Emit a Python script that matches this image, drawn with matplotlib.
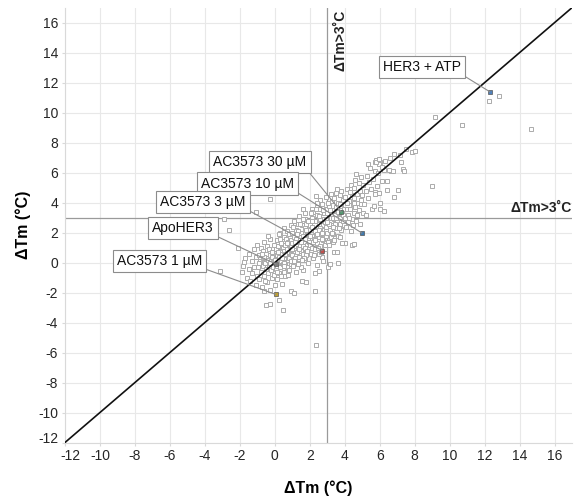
import matplotlib
matplotlib.use("Agg")
import matplotlib.pyplot as plt
import matplotlib.transforms as mtransforms

plt.rcParams['font.family'] = ['Liberation Sans', 'DejaVu Sans']
plt.rcParams['axes.unicode_minus'] = False

# screened compounds: dTm replicate 1 (x) vs replicate 2 (y)
pts = [
    # sparse / outliers
    (-3.12, -0.55), (-1.75, 0.05), (-1.43, -0.44), (-2.91, 2.89), (-1.06, 3.4), (-0.3, 4.22),
    (-0.51, -2.82), (-0.30, -2.78), (0.48, -3.15), (0.25, -2.49), (0.0, -1.53), (-0.63, -1.89),
    (0.95, -1.93), (1.09, -2.04), (2.37, -5.49), (2.27, -1.87), (1.53, -1.22), (1.77, -1.29),
    (2.29, -0.71), (2.51, -0.55), (3.62, 0.0), (3.05, -0.27), (3.15, -0.09), (2.69, 0.36),
    (2.74, 0.09), (2.42, -0.17), (1.6, -0.51), (-2.6, 2.2), (-2.1, 1.0),
    (9.14, 9.67), (10.73, 9.2), (12.82, 11.11), (12.27, 10.76), (14.65, 8.87), (9.01, 5.07),
    (7.51, 7.6), (7.83, 7.38), (8.04, 7.45), (6.8, 7.22), (7.13, 7.18), (7.24, 6.69),
    (5.81, 6.85), (6.04, 6.71), (5.95, 6.56), (5.7, 6.69), (7.34, 6.25), (7.37, 6.11),
    (6.65, 6.09), (6.77, 6.13), (6.17, 6.29), (6.27, 6.18),
    (2.37, 4.45), (1.71, 2.91), (2.10, 3.58), (2.42, 3.73), (3.47, 4.63), (3.75, 4.58),
    (5.70, 4.67), (5.94, 4.63), (5.05, 3.29), (4.33, 2.11), (4.04, 1.29), (4.42, 1.18),
    (4.51, 1.23), (3.34, 1.40), (3.37, 0.73), (3.56, 0.73), (2.67, 0.36),
    # x -2..-1
    (-1.9, -0.6), (-1.8, -0.2), (-1.7, 0.3), (-1.6, -1.0), (-1.5, -0.4), (-1.5, 0.6), (-1.4, -1.2),
    (-1.3, 0.1), (-1.3, -0.7), (-1.2, 0.9), (-1.2, -0.3), (-1.1, -1.5), (-1.1, 0.4), (-1.0, -0.9),
    (-1.0, 1.2),
    # x -1..0
    (-0.95, -0.3), (-0.9, 0.5), (-0.9, -1.1), (-0.85, 0.1), (-0.8, -0.6), (-0.8, 1.0), (-0.75, -1.6),
    (-0.7, 0.3), (-0.7, -0.2), (-0.65, 0.8), (-0.6, -0.9), (-0.6, 1.4), (-0.55, 0.0), (-0.5, -0.4),
    (-0.5, 0.6), (-0.45, -1.3), (-0.45, 1.1), (-0.4, 0.2), (-0.4, -0.7), (-0.35, 0.9), (-0.3, -0.1),
    (-0.3, -1.8), (-0.3, 0.5), (-0.25, 1.6), (-0.2, -0.5), (-0.2, 0.1), (-0.15, 0.7), (-0.15, -1.0),
    (-0.1, 0.3), (-0.1, -0.3), (-0.05, 1.2), (-0.05, -0.8), (-0.9, 0.0), (-0.6, 0.4), (-0.35, -0.2),
    (-0.25, 0.0), (-0.75, 0.6), (-0.55, -1.2), (-0.4, 1.8), (-0.15, 0.4),
    # x 0..1
    (0.0, 0.2), (0.05, -0.4), (0.05, 0.9), (0.1, -1.1), (0.1, 0.5), (0.15, 1.5), (0.15, -0.2),
    (0.2, 0.0), (0.2, 1.1), (0.25, -0.7), (0.25, 0.4), (0.3, 2.0), (0.3, 0.8), (0.3, -0.3),
    (0.35, 0.1), (0.35, 1.3), (0.4, -1.4), (0.4, 0.6), (0.45, -0.1), (0.45, 1.0), (0.5, 0.3),
    (0.5, 1.7), (0.5, -0.6), (0.55, 0.8), (0.55, 2.3), (0.6, 0.0), (0.6, 1.2), (0.6, -0.9),
    (0.65, 0.5), (0.65, 1.6), (0.7, -0.3), (0.7, 0.9), (0.7, 2.1), (0.75, 0.2), (0.75, 1.4),
    (0.8, -0.5), (0.8, 0.7), (0.8, 1.9), (0.85, 0.4), (0.85, 1.1), (0.9, -0.1), (0.9, 0.9),
    (0.9, 2.5), (0.95, 0.6), (0.95, 1.5), (0.1, 0.0), (0.2, 0.7), (0.3, 1.6), (0.4, 0.3),
    (0.5, 0.0), (0.6, 0.6), (0.7, 1.3), (0.8, 0.3), (0.9, 1.2), (0.15, -0.6), (0.35, -0.9),
    (0.55, -0.2), (0.75, -0.8), (0.95, 0.1), (0.25, 1.9),
    # x 1..2
    (1.0, 0.5), (1.0, 1.3), (1.0, 2.0), (1.05, -0.2), (1.1, 0.9), (1.1, 1.7), (1.1, 2.8),
    (1.15, 0.3), (1.2, 1.1), (1.2, -0.6), (1.2, 2.2), (1.25, 0.7), (1.3, 1.5), (1.3, 0.0),
    (1.3, 2.6), (1.35, 1.0), (1.4, 0.4), (1.4, 1.8), (1.4, 3.1), (1.45, 1.2), (1.5, 0.8),
    (1.5, 2.0), (1.5, -0.3), (1.55, 1.5), (1.55, 2.5), (1.6, 0.6), (1.6, 1.1), (1.6, 2.9),
    (1.65, 1.8), (1.7, 0.2), (1.7, 1.4), (1.7, 2.3), (1.75, 0.9), (1.75, 3.3), (1.8, 1.7),
    (1.8, 0.5), (1.8, 2.6), (1.85, 1.2), (1.85, 2.0), (1.9, 0.0), (1.9, 1.5), (1.9, 2.8),
    (1.95, 1.0), (1.95, 2.2), (1.0, 0.9), (1.1, 0.1), (1.2, 1.6), (1.3, 2.1), (1.4, 0.9),
    (1.5, 1.4), (1.6, 1.8), (1.7, 1.0), (1.8, 2.2), (1.9, 1.9), (1.25, 1.9), (1.45, 2.6),
    (1.65, 0.3), (1.85, 0.8), (1.35, -0.1), (1.55, 0.2), (1.15, 1.4), (1.05, 2.4), (1.75, 1.6),
    (1.95, 1.4), (1.6, 3.6),
    # x 2..3
    (2.0, 1.2), (2.0, 2.5), (2.05, 0.6), (2.1, 1.8), (2.1, 3.0), (2.15, 1.0), (2.2, 2.2),
    (2.2, 0.3), (2.2, 3.4), (2.25, 1.6), (2.3, 2.8), (2.3, 0.9), (2.35, 2.0), (2.4, 1.3),
    (2.4, 3.2), (2.45, 2.4), (2.5, 1.7), (2.5, 0.6), (2.5, 3.6), (2.55, 2.1), (2.6, 1.1),
    (2.6, 2.9), (2.65, 1.9), (2.7, 2.5), (2.7, 3.9), (2.75, 1.5), (2.8, 2.2), (2.8, 3.3),
    (2.85, 0.9), (2.85, 2.7), (2.9, 1.8), (2.9, 3.6), (2.95, 2.4), (2.95, 1.3), (2.0, 1.8),
    (2.1, 2.4), (2.2, 1.4), (2.3, 2.1), (2.4, 1.9), (2.5, 2.6), (2.6, 2.3), (2.7, 1.6),
    (2.8, 2.9), (2.9, 2.1), (2.15, 2.8), (2.35, 3.6), (2.55, 3.1), (2.75, 3.5), (2.25, 0.5),
    (2.45, 1.0), (2.65, 0.7), (2.85, 1.2), (2.05, 3.3), (2.6, 4.2), (2.4, 4.0), (2.9, 4.4),
    (2.3, 1.5), (2.5, 2.2), (2.7, 2.0), (2.95, 2.9),
    # x 3..4
    (3.0, 2.0), (3.0, 3.3), (3.05, 1.4), (3.1, 2.6), (3.1, 3.8), (3.15, 2.2), (3.2, 3.0),
    (3.2, 1.7), (3.25, 4.1), (3.3, 2.5), (3.3, 3.5), (3.35, 1.9), (3.4, 2.9), (3.4, 4.3),
    (3.45, 3.2), (3.5, 2.3), (3.5, 3.7), (3.55, 2.8), (3.6, 4.0), (3.6, 1.8), (3.65, 3.3),
    (3.7, 2.6), (3.7, 4.5), (3.75, 3.0), (3.8, 3.8), (3.8, 2.2), (3.85, 3.4), (3.9, 2.8),
    (3.9, 4.2), (3.95, 3.6), (3.0, 2.7), (3.15, 3.5), (3.3, 3.0), (3.45, 2.6), (3.6, 3.4),
    (3.75, 3.9), (3.9, 3.2), (3.05, 4.0), (3.2, 4.6), (3.35, 2.4), (3.5, 3.0), (3.65, 2.3),
    (3.8, 4.8), (3.95, 2.5), (3.1, 1.2), (3.4, 1.5), (3.7, 1.7), (3.25, 2.0), (3.55, 4.9),
    (3.85, 1.3),
    # x 4..5
    (4.0, 3.0), (4.0, 4.4), (4.05, 2.4), (4.1, 3.6), (4.15, 4.9), (4.2, 3.2), (4.2, 2.7),
    (4.25, 4.1), (4.3, 3.6), (4.35, 5.2), (4.4, 2.9), (4.4, 4.5), (4.45, 3.9), (4.5, 3.3),
    (4.5, 5.0), (4.55, 4.3), (4.6, 3.7), (4.6, 5.5), (4.65, 2.8), (4.7, 4.6), (4.75, 4.0),
    (4.8, 5.3), (4.8, 3.5), (4.85, 4.8), (4.9, 4.2), (4.95, 5.7), (4.1, 4.0), (4.3, 4.7),
    (4.5, 4.0), (4.7, 3.2), (4.9, 3.9), (4.25, 3.0), (4.65, 5.9), (4.85, 2.6), (4.45, 2.5),
    # x 5..7
    (5.0, 4.5), (5.05, 5.2), (5.1, 3.9), (5.2, 4.8), (5.25, 5.8), (5.3, 4.3), (5.4, 5.4),
    (5.45, 6.3), (5.5, 4.9), (5.55, 3.6), (5.6, 5.6), (5.7, 6.1), (5.75, 4.6), (5.8, 6.7),
    (5.85, 5.1), (5.9, 6.0), (5.95, 6.9), (5.2, 3.2), (5.65, 3.8), (5.35, 6.6),
    (6.04, 4.0), (6.04, 3.56), (6.23, 3.45), (6.14, 5.45), (6.44, 5.45), (7.03, 4.85),
    (6.42, 4.85), (6.8, 4.36), (6.1, 6.4), (6.3, 6.8), (6.5, 6.2), (6.6, 7.0),
]
cloud_x = [p[0] for p in pts]
cloud_y = [p[1] for p in pts]

# labelled conditions
hit_names = ["HER3 + ATP", "AC3573 30 \u00b5M", "AC3573 10 \u00b5M", "AC3573 3 \u00b5M", "ApoHER3", "AC3573 1 \u00b5M"]
hit_x = [12.3, 3.81, 4.99, 2.71, 0.04, 0.06]
hit_y = [11.38, 3.36, 1.96, 0.80, -0.09, -2.13]
hit_colors = ["#4f81bd", "#4e9a6e", "#3d7ab0", "#c0504d", "#7f7f7f", "#c0a030"]
label_x = [8.4, -0.85, -1.55, -4.1, -5.25, -6.6]
label_y = [13.05, 6.69, 5.26, 4.04, 2.31, 0.11]

threshold = 3
ticks = list(range(-12, 17, 2))

fig = plt.figure(figsize=(5.75, 5.04), dpi=100)
ax = fig.add_axes([0.113, 0.122, 0.882, 0.863])
ax.set_xlim(-12, 17)
ax.set_ylim(-12, 17)
ax.set_xticks(ticks)
ax.set_yticks(ticks)
ax.grid(True, color="#e8e8e8", lw=0.8, zorder=0)
ax.set_axisbelow(True)
for s in ["top", "right"]:
    ax.spines[s].set_visible(False)
for s in ["left", "bottom"]:
    ax.spines[s].set_color("#d9d9d9")
ax.tick_params(length=2, color="#d9d9d9", labelsize=10, labelcolor="#262626", pad=3)

# lowest labels nudged inward like the original
xl0 = ax.get_xticklabels()[0]
xl0.set_transform(xl0.get_transform() + mtransforms.ScaledTranslation(5 / 100, 0, fig.dpi_scale_trans))
yl0 = ax.get_yticklabels()[0]
yl0.set_transform(yl0.get_transform() + mtransforms.ScaledTranslation(0, 5 / 100, fig.dpi_scale_trans))

# threshold lines
ax.axvline(threshold, color="#9a9a9a", lw=0.9, zorder=1)
ax.axhline(threshold, color="#9a9a9a", lw=0.9, zorder=1)
ax.text(3.35, 16.85, "\u0394Tm>3\u02daC", rotation=90, ha="left", va="top",
        fontsize=10, fontweight="bold", color="#222222")
ax.text(16.95, 3.15, "\u0394Tm>3\u02daC", ha="right", va="bottom",
        fontsize=10, fontweight="bold", color="#222222")

ax.plot(cloud_x, cloud_y, "s", ms=3.0, mfc="white", mec="#ababab", mew=0.7, ls="none", zorder=2)

# identity line
ax.plot([-12, 17], [-12, 17], color="#111111", lw=1.2, zorder=3)

for name, px, py, c, tx, ty in zip(hit_names, hit_x, hit_y, hit_colors, label_x, label_y):
    ax.plot(px, py, "s", ms=3.2, mfc=c, mec="#555555", mew=0.5, zorder=4)
    ax.annotate(name, xy=(px, py), xytext=(tx, ty), ha="center", va="center",
                fontsize=10, color="#111111", zorder=5,
                bbox=dict(boxstyle="square,pad=0.3", fc="white", ec="#8c8c8c", lw=0.8),
                arrowprops=dict(arrowstyle="-", color="#8c8c8c", lw=0.8, relpos=(1, 0),
                                shrinkA=0, shrinkB=0))

ax.set_xlabel("\u0394Tm (\u00b0C)", fontsize=11.5, fontweight="bold", labelpad=12)
ax.set_ylabel("\u0394Tm (\u00b0C)", fontsize=11.5, fontweight="bold", labelpad=5)

plt.savefig("out.png", dpi=100)
